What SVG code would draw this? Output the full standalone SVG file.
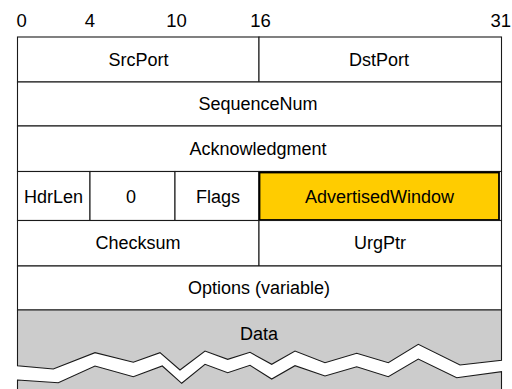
<svg xmlns="http://www.w3.org/2000/svg" width="512" height="389" viewBox="0 0 512 389">
<style>
text{font-family:"Liberation Sans",Arial,sans-serif;font-size:18px;fill:#000;text-anchor:middle}
.num{font-size:18.5px}
.cell{fill:#fff;stroke:#1a1a1a;stroke-width:1.1}
.gray{fill:#cccccc;stroke:#1a1a1a;stroke-width:1.1}
</style>
<rect x="0" y="0" width="512" height="389" fill="#fff"/>
<g id="bit-labels">
<text class="num" x="16.5" y="27" style="text-anchor:start">0</text>
<text class="num" x="90" y="27">4</text>
<text class="num" x="176.5" y="27">10</text>
<text class="num" x="260.5" y="27">16</text>
<text class="num" x="511" y="27" style="text-anchor:end">31</text>
</g>
<g id="SrcPort"><rect class="cell" x="17.5" y="37" width="241.5" height="45"/><text x="138.5" y="66">SrcPort</text></g>
<g id="DstPort"><rect class="cell" x="259" y="37" width="242.5" height="45"/><text x="379" y="66">DstPort</text></g>
<g id="SequenceNum"><rect class="cell" x="17.5" y="82" width="484" height="44"/><text x="258" y="110">SequenceNum</text></g>
<g id="Acknowledgment"><rect class="cell" x="17.5" y="126" width="484" height="45.5"/><text x="258" y="155">Acknowledgment</text></g>
<g id="HdrLen"><rect class="cell" x="17.5" y="171.5" width="72.5" height="49"/><text x="53.5" y="203">HdrLen</text></g>
<g id="Zero"><rect class="cell" x="90" y="171.5" width="85" height="49"/><text x="131" y="203">0</text></g>
<g id="Flags"><rect class="cell" x="175" y="171.5" width="84" height="49"/><text x="218" y="203">Flags</text></g>
<g id="AdvertisedWindow"><rect class="cell" x="259" y="171.5" width="242.5" height="49"/><rect x="259.5" y="172.5" width="239.5" height="47.5" fill="#ffcc00" stroke="#000" stroke-width="1.8"/><text x="379.5" y="203">AdvertisedWindow</text></g>
<g id="Checksum"><rect class="cell" x="17.5" y="220.5" width="241.5" height="45.5"/><text x="138" y="249">Checksum</text></g>
<g id="UrgPtr"><rect class="cell" x="259" y="220.5" width="242.5" height="45.5"/><text x="380" y="249">UrgPtr</text></g>
<g id="Options"><rect class="cell" x="17.5" y="266" width="484" height="44"/><text x="259" y="294">Options (variable)</text></g>
<g id="Data">
<polygon class="gray" points="17.5,310 501.5,310 501.5,360.3 460,365 418.3,344.3 388.3,362.7 356.7,353.3 325,362.7 295,351 271.7,364.3 250,352.3 227.7,359.3 205,351 180,370 160,352.7 133.3,362.3 95,352.7 53.3,369 17.5,365.7"/>
<polygon class="gray" points="17.5,380 58.3,382.7 95,366 133.3,376.7 162.3,366 181.7,383.3 205,364.3 227.7,372.7 250,365.3 271.7,379 295,365.7 325,376 356.7,366.7 388.3,376.7 418.3,359 456.7,377.7 501.5,371.7 501.5,395 17.5,395"/>
<text x="259" y="340">Data</text>
</g>
</svg>
